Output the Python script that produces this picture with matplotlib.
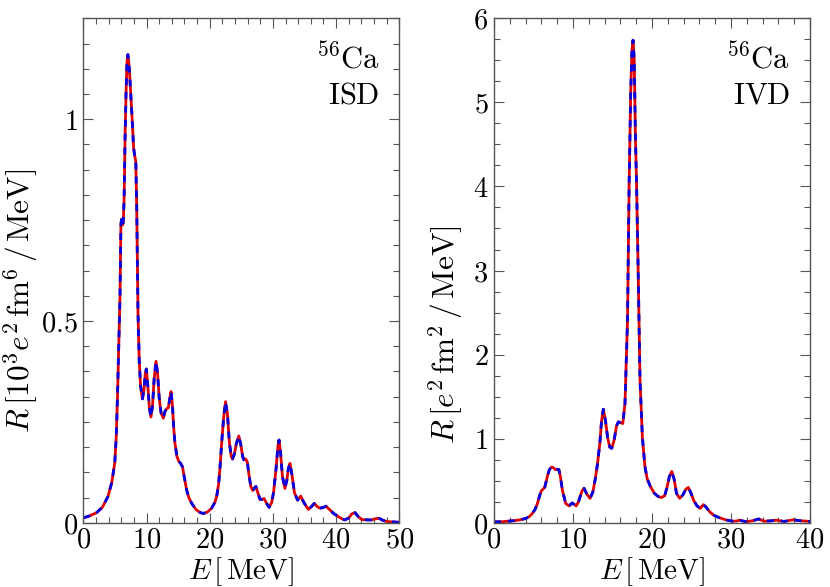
import matplotlib
matplotlib.use("Agg")
import matplotlib.pyplot as plt
from matplotlib.ticker import MultipleLocator

plt.rcParams['mathtext.fontset'] = 'cm'
plt.rcParams['font.family'] = ['DejaVu Serif']

# ---- data: ISD (left) ----
isd_E = [0, 1.0, 2.1, 3.0, 3.9, 4.5, 4.97, 5.2, 5.4, 5.6, 5.8, 5.95, 6.05, 6.17, 6.3, 6.45,
         6.6, 6.75, 6.9, 7.05, 7.2, 7.35, 7.55, 7.76, 7.95, 8.1, 8.3, 8.45, 8.65, 8.85, 9.05,
         9.35, 9.6, 9.8, 9.97, 10.2, 10.45, 10.7, 10.95, 11.2, 11.5, 11.75, 12.0, 12.3, 12.66,
         12.9, 13.15, 13.45, 13.65, 13.88, 14.1, 14.3, 14.5, 14.8, 15.1, 15.4, 15.7, 15.95,
         16.35, 16.7, 17.15, 17.8, 18.5, 19.0, 19.6, 20.3, 20.8, 21.1, 21.4, 21.6, 21.9, 22.2,
         22.5, 22.8, 23.1, 23.4, 23.6, 23.9, 24.2, 24.6, 24.9, 25.2, 25.4, 25.7, 25.95, 26.2,
         26.5, 26.8, 27.05, 27.3, 27.6, 27.96, 28.3, 28.6, 29.0, 29.4, 29.8, 30.1, 30.5, 30.8,
         30.97, 31.2, 31.5, 31.9, 32.2, 32.45, 32.7, 33.0, 33.4, 33.9, 34.4, 34.9, 35.6, 36.1,
         36.55, 37.0, 37.45, 38.0, 38.4, 39.0, 39.6, 40.35, 41.0, 41.4, 42.0, 42.5, 43.0, 43.5,
         44.05, 45.0, 45.6, 46.3, 46.8, 47.4, 48.0, 49.0, 50.0]
isd_R = [0.012, 0.017, 0.025, 0.038, 0.065, 0.10, 0.148, 0.21, 0.31, 0.43, 0.56, 0.74, 0.752,
         0.738, 0.74, 0.80, 0.95, 1.06, 1.14, 1.16, 1.14, 1.105, 1.05, 0.99, 0.93, 0.912, 0.895,
         0.78, 0.52, 0.40, 0.34, 0.307, 0.33, 0.37, 0.381, 0.34, 0.285, 0.262, 0.29, 0.355,
         0.40, 0.37, 0.31, 0.272, 0.259, 0.275, 0.282, 0.285, 0.305, 0.325, 0.29, 0.235, 0.197,
         0.165, 0.152, 0.147, 0.138, 0.115, 0.081, 0.062, 0.048, 0.033, 0.025, 0.023, 0.026,
         0.036, 0.050, 0.065, 0.095, 0.131, 0.20, 0.26, 0.30, 0.27, 0.20, 0.165, 0.158, 0.17,
         0.195, 0.215, 0.195, 0.165, 0.156, 0.158, 0.15, 0.12, 0.09, 0.080, 0.085, 0.09, 0.075,
         0.058, 0.058, 0.060, 0.048, 0.038, 0.05, 0.075, 0.135, 0.19, 0.205, 0.175, 0.115,
         0.085, 0.105, 0.135, 0.147, 0.12, 0.075, 0.056, 0.066, 0.05, 0.033, 0.04, 0.048, 0.04,
         0.036, 0.038, 0.041, 0.032, 0.023, 0.015, 0.009, 0.007, 0.012, 0.022, 0.025, 0.015,
         0.008, 0.007, 0.007, 0.010, 0.011, 0.006, 0.003, 0.002, 0.001]

# ---- data: IVD (right) ----
ivd_E = [0, 1.0, 2.53, 3.3, 4.0, 4.5, 4.85, 5.2, 5.5, 5.8, 6.0, 6.2, 6.42, 6.6, 6.75, 7.0, 7.25,
         7.5, 7.8, 8.0, 8.2, 8.4, 8.65, 9.07, 9.5, 9.9, 10.4, 10.7, 10.9, 11.15, 11.4, 11.75,
         12.15, 12.5, 12.8, 13.1, 13.4, 13.6, 13.84, 14.1, 14.4, 14.65, 14.9, 15.2, 15.5, 15.74,
         16.0, 16.3, 16.58, 16.9, 17.1, 17.3, 17.45, 17.6, 17.75, 17.9, 18.05, 18.27, 18.48,
         18.78, 19.1, 19.4, 19.8, 20.3, 20.8, 21.2, 21.6, 21.9, 22.2, 22.5, 22.8, 23.1, 23.5,
         23.9, 24.3, 24.6, 24.9, 25.3, 25.7, 26.1, 26.5, 26.8, 27.3, 27.8, 28.4, 29.0, 29.5,
         30.2, 30.7, 31.1, 31.5, 32.0, 32.8, 33.5, 34.0, 34.3, 35.0, 35.8, 36.7, 37.3, 37.9,
         38.6, 39.3, 40.0]
ivd_R = [0.01, 0.012, 0.024, 0.035, 0.05, 0.075, 0.11, 0.16, 0.23, 0.33, 0.38, 0.40, 0.42, 0.49,
         0.55, 0.63, 0.66, 0.655, 0.63, 0.635, 0.635, 0.55, 0.39, 0.23, 0.20, 0.235, 0.20, 0.25,
         0.31, 0.38, 0.41, 0.34, 0.29, 0.36, 0.51, 0.70, 0.95, 1.2, 1.35, 1.22, 1.0, 0.9, 0.885,
         0.98, 1.15, 1.20, 1.19, 1.18, 1.42, 2.41, 4.0, 5.1, 5.6, 5.74, 5.5, 4.6, 4.0, 2.88, 1.70,
         1.02, 0.67, 0.52, 0.43, 0.35, 0.31, 0.30, 0.32, 0.42, 0.55, 0.61, 0.52, 0.35, 0.29,
         0.33, 0.40, 0.42, 0.36, 0.26, 0.20, 0.17, 0.215, 0.19, 0.13, 0.09, 0.064, 0.045, 0.03,
         0.018, 0.02, 0.03, 0.02, 0.012, 0.025, 0.045, 0.025, 0.018, 0.022, 0.03, 0.015, 0.025,
         0.035, 0.025, 0.02, 0.015]

isd_xticks = [0, 10, 20, 30, 40, 50]
isd_yticks = [0, 0.5, 1]
isd_yticklabels = ['0', '0.5', '1']
ivd_xticks = [0, 10, 20, 30, 40]
ivd_yticks = [0, 1, 2, 3, 4, 5, 6]

RED = '#dd0000'
BLUE = '#0000e6'
GRAY = '#555555'
FS_TICK = 20.5
FS_XLAB = 21
FS_YLAB = 22.5
FS_TXT = 22

fig = plt.figure(figsize=(8.30, 5.87), dpi=100)
axL = fig.add_axes([0.1004, 0.1095, 0.3807, 0.8593])
axR = fig.add_axes([0.5952, 0.1095, 0.3807, 0.8593])


def style(ax, xticks, yticks, ylabels, xmin_step, ymin_step):
    ax.set_xticks(xticks)
    ax.set_xticklabels([r'$%s$' % str(t) for t in xticks])
    ax.set_yticks(yticks)
    ax.set_yticklabels([r'$%s$' % s for s in ylabels])
    ax.xaxis.set_minor_locator(MultipleLocator(xmin_step))
    ax.yaxis.set_minor_locator(MultipleLocator(ymin_step))
    ax.tick_params(which='both', direction='in', top=True, right=True, colors=GRAY,
                   labelcolor='black', labelsize=FS_TICK, width=0.8)
    ax.tick_params(which='major', length=7)
    ax.tick_params(axis='x', which='major', pad=2.5)
    ax.tick_params(axis='y', which='major', pad=4)
    ax.tick_params(which='minor', length=4)
    for s in ax.spines.values():
        s.set_color(GRAY)
        s.set_linewidth(1.0)


for ax, E, R in ((axL, isd_E, isd_R), (axR, ivd_E, ivd_R)):
    ax.plot(E, R, color=RED, lw=2.0, solid_joinstyle='round')
    ax.plot(E, R, color=BLUE, lw=2.0, dashes=(2.5, 2.5))

axL.set_xlim(0, 50)
axL.set_ylim(0, 1.25)
style(axL, isd_xticks, isd_yticks, isd_yticklabels, 2, 0.0625)
axR.set_xlim(0, 40)
axR.set_ylim(0, 6)
style(axR, ivd_xticks, ivd_yticks, [str(t) for t in ivd_yticks], 2, 0.25)

xlab = r'$E\,[\,\mathrm{MeV}]$'
axL.set_xlabel(xlab, fontsize=FS_XLAB)
axR.set_xlabel(xlab, fontsize=FS_XLAB)
axL.xaxis.set_label_coords(0.5, -0.064)
axR.xaxis.set_label_coords(0.5, -0.064)
axL.set_ylabel(r'$R\,[10^3e^2\,\mathrm{fm}^6\,/\,\mathrm{MeV}]$', fontsize=FS_YLAB)
axR.set_ylabel(r'$R\,[e^2\,\mathrm{fm}^2\,/\,\mathrm{MeV}]$', fontsize=FS_YLAB)
axL.yaxis.set_label_coords(-0.135, 0.44)
axR.yaxis.set_label_coords(-0.09, 0.372)

for ax, lab in ((axL, 'ISD'), (axR, 'IVD')):
    ax.text(0.937, 0.901, r'$^{56}\mathrm{Ca}$', transform=ax.transAxes, ha='right',
            va='baseline', fontsize=FS_TXT)
    ax.text(0.937, 0.832, r'$\mathrm{%s}$' % lab, transform=ax.transAxes, ha='right',
            va='baseline', fontsize=FS_TXT)

fig.savefig('out.png', dpi=100)
